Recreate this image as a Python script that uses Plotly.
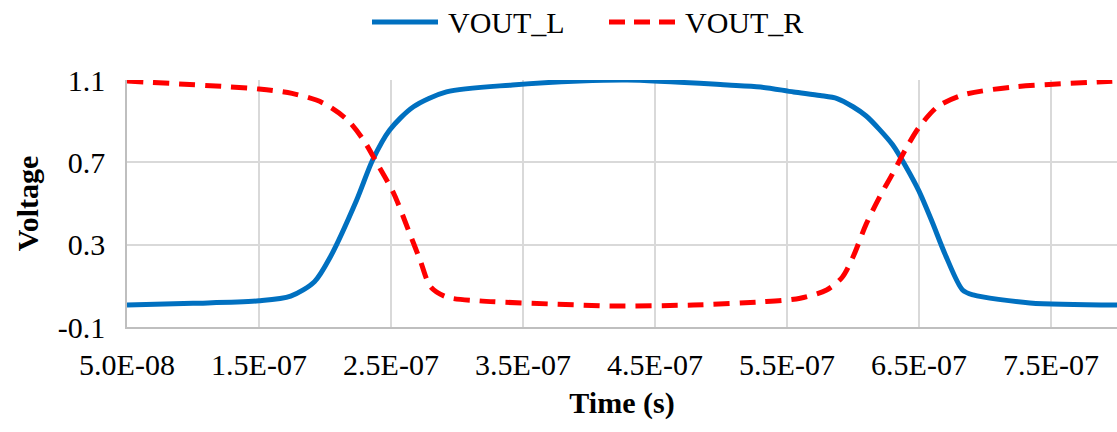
import plotly.graph_objects as go

# ---- data (time in seconds, voltage in V) ----
t_L = [5.0e-8, 1.0e-7, 1.5e-7, 1.74e-7, 1.92e-7, 2.04e-7, 2.24e-7, 2.36e-7, 2.49e-7,
       2.67e-7, 2.92e-7, 3.42e-7, 3.93e-7, 4.29e-7, 5.05e-7, 5.30e-7, 5.55e-7, 5.75e-7,
       5.88e-7, 6.00e-7, 6.10e-7, 6.20e-7, 6.30e-7, 6.40e-7, 6.50e-7, 6.60e-7, 6.70e-7,
       6.83e-7, 6.91e-7, 7.34e-7, 8.0e-7]
v_L = [0.007, 0.015, 0.027, 0.05, 0.12, 0.24, 0.517, 0.71, 0.857,
       0.97, 1.042, 1.076, 1.095, 1.1, 1.076, 1.066, 1.042, 1.025,
       1.01, 0.97, 0.925, 0.86, 0.785, 0.68, 0.56, 0.41, 0.25,
       0.08, 0.056, 0.017, 0.007]

t_R = [5.0e-8, 1.5e-7, 1.75e-7, 1.98e-7, 2.17e-7, 2.29e-7, 2.39e-7, 2.52e-7, 2.64e-7,
       2.72e-7, 2.80e-7, 2.92e-7, 3.17e-7, 3.93e-7, 4.16e-7, 4.79e-7, 5.30e-7,
       5.60e-7, 5.80e-7, 5.92e-7, 6.00e-7, 6.10e-7, 6.20e-7, 6.30e-7, 6.40e-7,
       6.50e-7, 6.64e-7, 6.83e-7, 7.21e-7, 7.85e-7, 8.0e-7]
v_R = [1.095, 1.056, 1.035, 0.99, 0.906, 0.81, 0.70, 0.55, 0.357,
       0.226, 0.095, 0.046, 0.027, 0.007, 0.002, 0.007, 0.022,
       0.04, 0.08, 0.143, 0.24, 0.40, 0.53, 0.645, 0.765,
       0.87, 0.97, 1.027, 1.066, 1.09, 1.095]

x_tickvals = [5.0e-8, 1.5e-7, 2.5e-7, 3.5e-7, 4.5e-7, 5.5e-7, 6.5e-7, 7.5e-7]
x_ticktext = ["5.0E-08", "1.5E-07", "2.5E-07", "3.5E-07", "4.5E-07", "5.5E-07", "6.5E-07", "7.5E-07"]
y_tickvals = [-0.1, 0.3, 0.7, 1.1]
y_ticktext = ["-0.1", "0.3", "0.7", "1.1"]
series_names = ["VOUT_L", "VOUT_R"]

BLUE = "#0070C0"
RED = "#FF0000"
FONT = "'Times New Roman', 'Liberation Serif', serif"
FS = 30

fig = go.Figure()
fig.add_trace(go.Scatter(x=t_L, y=v_L, mode="lines", name=series_names[0],
                         line=dict(color=BLUE, width=5, shape="spline", smoothing=0.8)))
fig.add_trace(go.Scatter(x=t_R, y=v_R, mode="lines", name=series_names[1],
                         line=dict(color=RED, width=5, dash="16px,10px", shape="spline", smoothing=0.8)))

# manual legend
L, R, T, B = 127, 1117, 80, 327
def px(xp):
    return (xp - L) / (R - L)
def py(yp):
    return (B - yp) / (B - T)

fig.add_shape(type="line", xref="paper", yref="paper", x0=px(372), x1=px(438), y0=py(22), y1=py(22),
              line=dict(color=BLUE, width=5))
fig.add_shape(type="line", xref="paper", yref="paper", x0=px(609), x1=px(675), y0=py(22), y1=py(22),
              line=dict(color=RED, width=5, dash="16px,9px"))
fig.add_annotation(xref="paper", yref="paper", x=px(446), y=py(22), text=series_names[0],
                   showarrow=False, xanchor="left", yanchor="middle",
                   font=dict(family=FONT, size=FS, color="black"))
fig.add_annotation(xref="paper", yref="paper", x=px(683), y=py(22), text=series_names[1],
                   showarrow=False, xanchor="left", yanchor="middle",
                   font=dict(family=FONT, size=FS, color="black"))

fig.update_layout(
    width=1117, height=432,
    margin=dict(l=L, r=1117 - R, t=T, b=432 - B),
    paper_bgcolor="white", plot_bgcolor="white",
    showlegend=False,
    font=dict(family=FONT, size=FS, color="black"),
)
fig.update_xaxes(
    range=[5.0e-8, 8.0e-7], tickmode="array", tickvals=x_tickvals, ticktext=x_ticktext,
    showgrid=True, gridcolor="#D9D9D9", gridwidth=1.5,
    showline=True, linecolor="#BFBFBF", linewidth=1.5,
    zeroline=False, ticks="", ticklabelstandoff=10,
    tickfont=dict(family=FONT, size=FS, color="black"),
    title=dict(text="<b>Time (s)</b>", font=dict(family=FONT, size=FS, color="black"), standoff=12),
)
fig.update_yaxes(
    range=[-0.1, 1.1], tickmode="array", tickvals=y_tickvals, ticktext=y_ticktext,
    showgrid=True, gridcolor="#D9D9D9", gridwidth=1.5,
    showline=True, linecolor="#BFBFBF", linewidth=1.5,
    zeroline=False, ticks="", ticklabelstandoff=14,
    tickfont=dict(family=FONT, size=FS, color="black"),
    title=dict(text="<b>Voltage</b>", font=dict(family=FONT, size=FS, color="black"), standoff=10),
)

fig.write_html("out.html")
